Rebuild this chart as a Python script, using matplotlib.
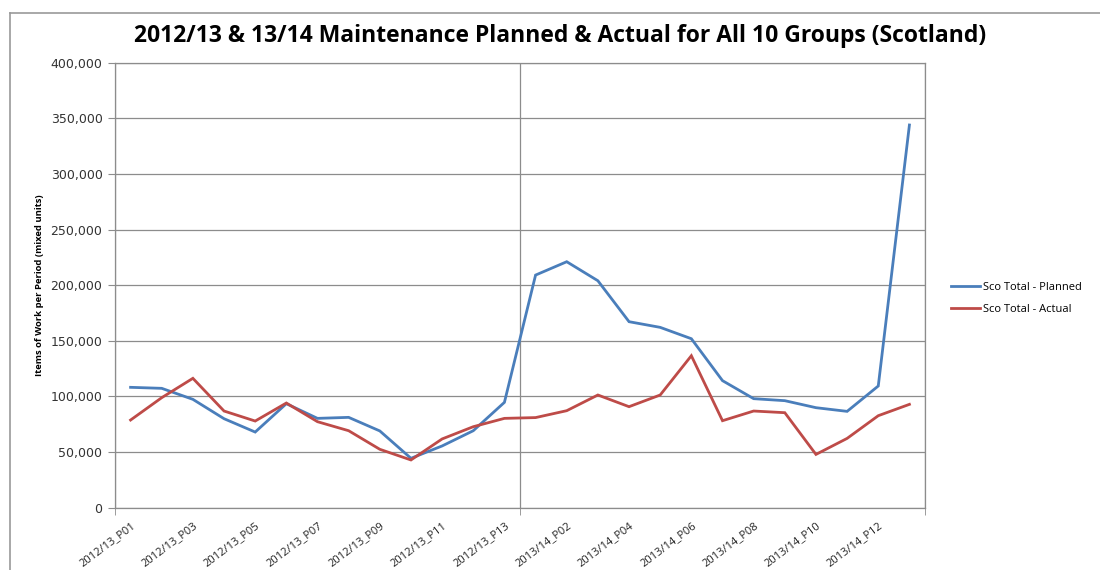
import numpy as np
import matplotlib.pyplot as plt
from matplotlib.lines import Line2D

periods = ["2012/13_P%02d" % i for i in range(1, 14)] + ["2013/14_P%02d" % i for i in range(1, 14)]

planned = [108200, 107300, 97400, 80000, 68000, 93500, 80300, 81200, 69000, 44400,
           55500, 69200, 94700, 209100, 221100, 204000, 167200, 162100, 151900, 114200,
           98000, 96200, 89900, 86600, 109400, 344000]
actual = [78800, 98900, 116300, 86900, 77900, 94100, 77300, 69200, 52500, 42900,
          61800, 72800, 80300, 81000, 87200, 101300, 90800, 101300, 136600, 78200,
          86900, 85400, 47900, 62300, 82700, 92900]

blue = "#4A7EBB"
red = "#BE4B48"
grid_col = "#8C8C8C"

plt.rcParams["font.family"] = ["Open Sans", "DejaVu Sans"]

fig = plt.figure(figsize=(11, 5.7), dpi=100)
ax = fig.add_axes([115/1100, 1 - 507.7/570, 810/1100, 445/570])

x = np.arange(len(periods))
ax.plot(x, planned, color=blue, lw=2.0, label="Sco Total - Planned", solid_joinstyle="miter")
ax.plot(x, actual, color=red, lw=2.0, label="Sco Total - Actual", solid_joinstyle="miter")

ax.set_xlim(-0.5, len(periods) - 0.5)
ax.set_ylim(0, 400000)
ax.set_yticks(np.arange(0, 400001, 50000))
ax.set_yticklabels(["{:,}".format(v) for v in range(0, 400001, 50000)],
                   fontsize=9, family="DejaVu Sans", color="#333333")
ax.grid(axis="y", color=grid_col, lw=0.9)

# labels on every other period, tick marks only at year boundaries
ax.set_xticks(x[::2])
ax.set_xticklabels(periods[::2], rotation=37, ha="right", rotation_mode="anchor",
                   fontsize=8, color="#222222")
ax.tick_params(axis="x", which="major", length=0, pad=9)
ax.set_xticks([-0.5, 12.5, len(periods) - 0.5], minor=True)
ax.tick_params(axis="x", which="minor", length=5, color=grid_col)
ax.grid(axis="x", which="minor", color=grid_col, lw=0.9)
ax.tick_params(axis="y", length=5, color=grid_col, pad=4)

for s in ax.spines.values():
    s.set_color(grid_col)
    s.set_linewidth(0.9)
ax.set_axisbelow(True)

ax.set_ylabel("Items of Work per Period (mixed units)", fontsize=6.8, fontweight="bold", labelpad=5)

fig.text(560/1100, 1 - 36/570, "2012/13 & 13/14 Maintenance Planned & Actual for All 10 Groups (Scotland)",
         ha="center", va="center", fontsize=16.5, fontweight="bold")

ax.legend(loc="center left", bbox_to_anchor=(1.02, 0.47), frameon=False, fontsize=8,
          handlelength=2.6, handletextpad=0.3, labelspacing=1.0)

# chart area border (left and top visible)
fig.add_artist(Line2D([10/1100, 10/1100], [0, 1 - 13/570], color="#999999", lw=1.2))
fig.add_artist(Line2D([10/1100, 1], [1 - 13/570, 1 - 13/570], color="#999999", lw=1.2))

fig.savefig("out.png", dpi=100)
